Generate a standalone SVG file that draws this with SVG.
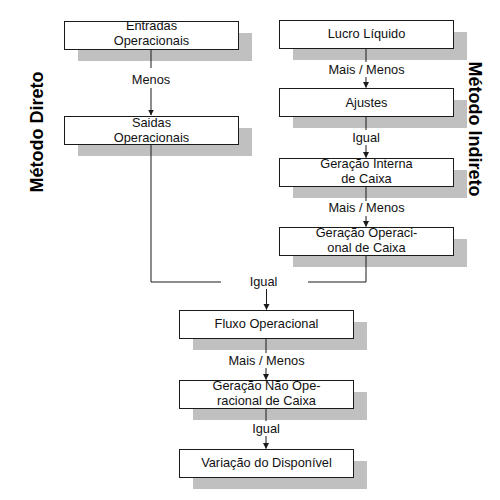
<svg xmlns="http://www.w3.org/2000/svg" width="500" height="500" viewBox="0 0 500 500">
<style>
.shadow{fill:#c0c0c0;stroke:none}
.box{fill:#ffffff;stroke:#1a1a1a;stroke-width:1}
.t{font-family:"Liberation Sans",Arial,sans-serif;font-size:12.8px;fill:#111;text-anchor:middle}
.title{font-family:"Liberation Sans",Arial,sans-serif;font-size:18px;font-weight:bold;fill:#000;text-anchor:middle}
.line{fill:none;stroke:#1a1a1a;stroke-width:1}
.lbg{fill:#ffffff;stroke:none}
</style>
<defs>
<marker id="arr" markerWidth="6" markerHeight="7" refX="5.5" refY="3" orient="auto" markerUnits="userSpaceOnUse">
<path d="M0,0 L6,3 L0,6 Z" fill="#1a1a1a"/>
</marker>
</defs>
<rect width="500" height="500" fill="#ffffff"/>

<text class="title" transform="translate(43,132) rotate(-90)">Método Direto</text>
<text class="title" transform="translate(469,129) rotate(90)">Método Indireto</text>

<!-- shadows -->
<g id="shadows">
<rect class="shadow" x="78" y="33" width="174" height="28"/>
<rect class="shadow" x="78" y="128" width="174" height="28"/>
<rect class="shadow" x="293" y="32" width="174" height="28"/>
<rect class="shadow" x="293" y="100" width="174" height="28"/>
<rect class="shadow" x="293" y="170" width="174" height="28"/>
<rect class="shadow" x="293" y="239" width="174" height="28"/>
<rect class="shadow" x="193" y="322" width="174" height="28"/>
<rect class="shadow" x="193" y="392" width="174" height="28"/>
<rect class="shadow" x="193" y="461" width="174" height="28"/>
</g>

<g id="connectors">
<path class="line" d="M151,49 V115" marker-end="url(#arr)"/>
<path class="line" d="M151,144 V282 H366 V255"/>
<path class="line" d="M366,48 V87.5" marker-end="url(#arr)"/>
<path class="line" d="M366,116 V157.5" marker-end="url(#arr)"/>
<path class="line" d="M366,186 V226.5" marker-end="url(#arr)"/>
<path class="line" d="M266.5,282 V309.5" marker-end="url(#arr)"/>
<path class="line" d="M266,338 V379.5" marker-end="url(#arr)"/>
<path class="line" d="M266,408 V448.5" marker-end="url(#arr)"/>
</g>

<g id="labels">
<rect class="lbg" x="128" y="68" width="46" height="20"/>
<text class="t" x="151" y="83.5">Menos</text>
<rect class="lbg" x="309" y="62" width="115" height="15"/>
<text class="t" x="366.5" y="73.5">Mais / Menos</text>
<rect class="lbg" x="323" y="130" width="87" height="15"/>
<text class="t" x="366" y="141.5">Igual</text>
<rect class="lbg" x="309" y="201" width="115" height="15"/>
<text class="t" x="366.5" y="212">Mais / Menos</text>
<rect class="lbg" x="221" y="274" width="87" height="15"/>
<text class="t" x="263.5" y="285.5">Igual</text>
<rect class="lbg" x="209" y="353" width="115" height="15"/>
<text class="t" x="266.5" y="365">Mais / Menos</text>
<rect class="lbg" x="223" y="421" width="87" height="15"/>
<text class="t" x="266" y="433">Igual</text>
</g>

<g id="n-entradas">
<rect class="box" x="64.5" y="21.5" width="174" height="28"/>
<text class="t" x="151.5" y="30">Entradas</text>
<text class="t" x="151.5" y="45">Operacionais</text>
</g>
<g id="n-saidas">
<rect class="box" x="64.5" y="116.5" width="174" height="28"/>
<text class="t" x="151.5" y="126.5">Saidas</text>
<text class="t" x="151.5" y="141.5">Operacionais</text>
</g>
<g id="n-lucro">
<rect class="box" x="279.5" y="20.5" width="174" height="28"/>
<text class="t" x="366.5" y="37.5">Lucro Líquido</text>
</g>
<g id="n-ajustes">
<rect class="box" x="279.5" y="88.5" width="174" height="28"/>
<text class="t" x="366.5" y="106.5">Ajustes</text>
</g>
<g id="n-interna">
<rect class="box" x="279.5" y="158.5" width="174" height="28"/>
<text class="t" x="366.5" y="168">Geração Interna</text>
<text class="t" x="366.5" y="183">de Caixa</text>
</g>
<g id="n-operacional">
<rect class="box" x="279.5" y="227.5" width="174" height="28"/>
<text class="t" x="366.5" y="237">Geração Operaci-</text>
<text class="t" x="366.5" y="252">onal de Caixa</text>
</g>
<g id="n-fluxo">
<rect class="box" x="179.5" y="310.5" width="174" height="28"/>
<text class="t" x="266.5" y="328">Fluxo Operacional</text>
</g>
<g id="n-naoop">
<rect class="box" x="179.5" y="380.5" width="174" height="28"/>
<text class="t" x="266.5" y="390">Geração Não Ope-</text>
<text class="t" x="266.5" y="405">racional de Caixa</text>
</g>
<g id="n-variacao">
<rect class="box" x="179.5" y="449.5" width="174" height="28"/>
<text class="t" x="266.5" y="467">Variação do Disponível</text>
</g>
</svg>
